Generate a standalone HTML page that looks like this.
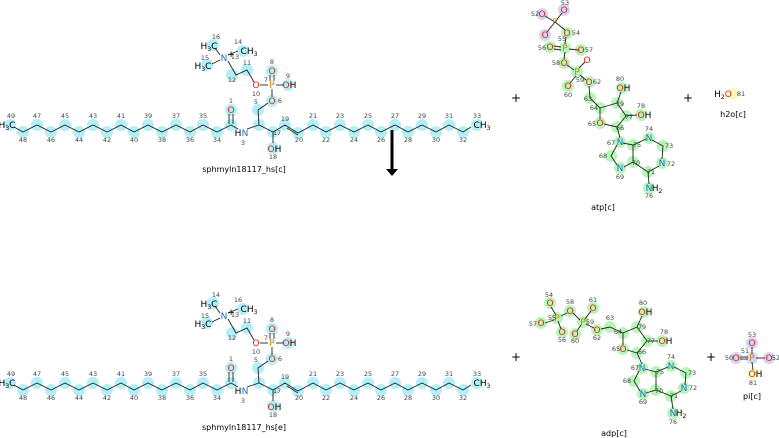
<!DOCTYPE html>
<html><head><meta charset="utf-8"><style>
html,body{margin:0;padding:0;background:#fff;width:779px;height:438px;overflow:hidden}
svg{display:block;font-family:"DejaVu Sans","Liberation Sans",sans-serif}
.n{font-size:6.5px;fill:#444;text-anchor:middle}
.a{font-size:9px;text-anchor:middle}
.O{fill:#e8200c}.N{fill:#1a6fd0}.P{fill:#d08000}.K{fill:#000}
.cy circle{fill:#b2eff6}
.gr circle{fill:#b8f5b8}
.bl{fill:#d4d4f8}.ye{fill:#fafac0}
.b{stroke:#222;stroke-width:0.9;fill:none}
.lab{font-size:8px;text-anchor:middle;fill:#000}
.plus{font-size:12px;text-anchor:middle;fill:#000}
</style></head><body>
<svg width="779" height="438" viewBox="0 0 779 438" xmlns="http://www.w3.org/2000/svg">

<!-- ===== TOP SPHINGOMYELIN ===== -->
<g>
<g class="cy">
<circle cx="10" cy="125" r="6"/><circle cx="23" cy="132" r="6"/><circle cx="37" cy="125" r="6"/><circle cx="51" cy="132" r="6"/><circle cx="65" cy="125" r="6"/><circle cx="79" cy="132" r="6"/><circle cx="93" cy="125" r="6"/><circle cx="107" cy="132" r="6"/><circle cx="121" cy="125" r="6"/><circle cx="134" cy="132" r="6"/><circle cx="148" cy="125" r="6"/><circle cx="162" cy="132" r="6"/><circle cx="176" cy="125" r="6"/><circle cx="190" cy="132" r="6"/><circle cx="203" cy="125" r="6"/><circle cx="217" cy="132" r="6"/><circle cx="231" cy="125" r="6"/><circle cx="231" cy="110" r="6"/><circle cx="259" cy="125" r="6"/><circle cx="258" cy="110" r="6"/><circle cx="272" cy="101" r="6"/><circle cx="272" cy="71" r="6"/><circle cx="288" cy="85" r="6"/><circle cx="247" cy="70" r="6"/><circle cx="232" cy="75" r="6"/><circle cx="213" cy="45" r="6"/><circle cx="243" cy="51" r="6"/><circle cx="207" cy="65" r="6"/><circle cx="273" cy="132" r="6"/><circle cx="273" cy="148" r="6"/><circle cx="285" cy="125" r="6"/><circle cx="298" cy="133" r="6"/><circle cx="313" cy="125" r="6"/><circle cx="326" cy="132" r="6"/><circle cx="340" cy="125" r="6"/><circle cx="354" cy="132" r="6"/><circle cx="368" cy="125" r="6"/><circle cx="381" cy="132" r="6"/><circle cx="395" cy="125" r="6"/><circle cx="408" cy="132" r="6"/><circle cx="422" cy="125" r="6"/><circle cx="436" cy="132" r="6"/><circle cx="449" cy="125" r="6"/><circle cx="463" cy="132" r="6"/><circle cx="477" cy="125" r="6"/>
</g>
<polyline class="b" points="14,127 23,132 37,125 51,132 65,125 79,132 93,125 107,132 121,125 134,132 148,125 162,132 176,125 190,132 203,125 217,132 231,125 238,129"/>
<polyline class="b" points="247,129 259,125 273,132 285,125 298,133 313,125 326,132 340,125 354,132 368,125 381,132 395,125 408,132 422,125 436,132 449,125 463,132 471,127"/>
<line class="b" x1="287" y1="128" x2="298" y2="135"/>
<line class="b" x1="229" y1="114" x2="229" y2="124"/><line class="b" x1="233" y1="114" x2="233" y2="124"/>
<polyline class="b" points="259,125 258,110 268,103"/>
<line class="b" x1="272" y1="97" x2="272" y2="89"/>
<line class="b" x1="270" y1="75" x2="270" y2="81"/><line class="b" x1="274" y1="75" x2="274" y2="81"/>
<line class="b" x1="276" y1="85" x2="284" y2="85"/><line class="b" x1="260" y1="85" x2="268" y2="85"/>
<polyline class="b" points="254,82 247,70 236,75 228,61"/>
<line class="b" x1="220" y1="55" x2="215" y2="48"/><line class="b" x1="228" y1="55" x2="238" y2="51"/><line class="b" x1="220" y1="60" x2="212" y2="64"/>
<line class="b" x1="273" y1="132" x2="273" y2="143"/>
<text class="a K" x="7" y="128">H<tspan font-size="6" dy="2">3</tspan><tspan dy="-2">C</tspan></text>
<text class="a O" x="231" y="113">O</text>
<text class="a K" x="238" y="136">H</text><text class="a N" x="245" y="136">N</text>
<text class="a O" x="272" y="104">O</text>
<text class="a P" x="272" y="88">P</text>
<text class="a O" x="272" y="74">O</text>
<text class="a O" x="286" y="88">O</text><text class="a K" x="293" y="88">H</text>
<text class="a O" x="256" y="88">O</text>
<text class="a N" x="224" y="61">N</text><text class="a K" x="231" y="57">+</text>
<text class="a K" x="209" y="49">H<tspan font-size="6" dy="2">3</tspan><tspan dy="-2">C</tspan></text>
<text class="a K" x="249" y="54">CH<tspan font-size="6" dy="2">3</tspan></text>
<text class="a K" x="203" y="69">H<tspan font-size="6" dy="2">3</tspan><tspan dy="-2">C</tspan></text>
<text class="a O" x="271" y="152">O</text><text class="a K" x="278" y="152">H</text>
<text class="a K" x="482" y="128">CH<tspan font-size="6" dy="2">3</tspan></text>
<text class="n" x="11" y="118">49</text><text class="n" x="23" y="142">48</text><text class="n" x="37" y="118">47</text><text class="n" x="51" y="142">46</text><text class="n" x="65" y="118">45</text><text class="n" x="79" y="142">44</text><text class="n" x="93" y="118">43</text><text class="n" x="107" y="142">42</text><text class="n" x="121" y="118">41</text><text class="n" x="134" y="142">40</text><text class="n" x="148" y="118">39</text><text class="n" x="162" y="142">38</text><text class="n" x="176" y="118">37</text><text class="n" x="190" y="142">36</text><text class="n" x="203" y="118">35</text><text class="n" x="217" y="142">34</text>
<text class="n" x="231" y="103">1</text><text class="n" x="243" y="145">3</text><text class="n" x="256" y="104">5</text><text class="n" x="280" y="103">6</text><text class="n" x="266" y="82">7</text><text class="n" x="272" y="64">8</text><text class="n" x="288" y="78">9</text><text class="n" x="256" y="96">10</text><text class="n" x="247" y="65">11</text><text class="n" x="232" y="82">12</text><text class="n" x="235" y="59">13</text><text class="n" x="238" y="44">14</text><text class="n" x="205" y="60">15</text><text class="n" x="216" y="39">16</text><text class="n" x="277" y="135">17</text><text class="n" x="273" y="159">18</text><text class="n" x="285" y="121">19</text><text class="n" x="299" y="142">20</text>
<text class="n" x="313" y="118">21</text><text class="n" x="326" y="142">22</text><text class="n" x="340" y="118">23</text><text class="n" x="354" y="142">24</text><text class="n" x="368" y="118">25</text><text class="n" x="381" y="142">26</text><text class="n" x="395" y="118">27</text><text class="n" x="408" y="142">28</text><text class="n" x="422" y="118">29</text><text class="n" x="436" y="142">30</text><text class="n" x="449" y="118">31</text><text class="n" x="463" y="142">32</text><text class="n" x="477" y="118">33</text>
<text class="lab" x="244" y="172">sphmyln18117_hs[c]</text>
</g>

<!-- arrow -->
<line x1="392" y1="130" x2="392" y2="170" stroke="#000" stroke-width="3"/>
<polygon points="386,169 398,169 392,176" fill="#000"/>

<!-- ===== BOTTOM SPHINGOMYELIN ===== -->
<g transform="translate(0,258)">
<g class="cy">
<circle cx="10" cy="125" r="6"/><circle cx="23" cy="132" r="6"/><circle cx="37" cy="125" r="6"/><circle cx="51" cy="132" r="6"/><circle cx="65" cy="125" r="6"/><circle cx="79" cy="132" r="6"/><circle cx="93" cy="125" r="6"/><circle cx="107" cy="132" r="6"/><circle cx="121" cy="125" r="6"/><circle cx="134" cy="132" r="6"/><circle cx="148" cy="125" r="6"/><circle cx="162" cy="132" r="6"/><circle cx="176" cy="125" r="6"/><circle cx="190" cy="132" r="6"/><circle cx="203" cy="125" r="6"/><circle cx="217" cy="132" r="6"/><circle cx="231" cy="125" r="6"/><circle cx="231" cy="110" r="6"/><circle cx="259" cy="125" r="6"/><circle cx="258" cy="110" r="6"/><circle cx="272" cy="101" r="6"/><circle cx="272" cy="71" r="6"/><circle cx="288" cy="85" r="6"/><circle cx="247" cy="70" r="6"/><circle cx="232" cy="75" r="6"/><circle cx="213" cy="45" r="6"/><circle cx="243" cy="51" r="6"/><circle cx="207" cy="65" r="6"/><circle cx="273" cy="132" r="6"/><circle cx="273" cy="148" r="6"/><circle cx="285" cy="125" r="6"/><circle cx="298" cy="133" r="6"/><circle cx="313" cy="125" r="6"/><circle cx="326" cy="132" r="6"/><circle cx="340" cy="125" r="6"/><circle cx="354" cy="132" r="6"/><circle cx="368" cy="125" r="6"/><circle cx="381" cy="132" r="6"/><circle cx="395" cy="125" r="6"/><circle cx="408" cy="132" r="6"/><circle cx="422" cy="125" r="6"/><circle cx="436" cy="132" r="6"/><circle cx="449" cy="125" r="6"/><circle cx="463" cy="132" r="6"/><circle cx="477" cy="125" r="6"/>
</g>
<polyline class="b" points="14,127 23,132 37,125 51,132 65,125 79,132 93,125 107,132 121,125 134,132 148,125 162,132 176,125 190,132 203,125 217,132 231,125 238,129"/>
<polyline class="b" points="247,129 259,125 273,132 285,125 298,133 313,125 326,132 340,125 354,132 368,125 381,132 395,125 408,132 422,125 436,132 449,125 463,132 471,127"/>
<line class="b" x1="287" y1="128" x2="298" y2="135"/>
<line class="b" x1="229" y1="114" x2="229" y2="124"/><line class="b" x1="233" y1="114" x2="233" y2="124"/>
<polyline class="b" points="259,125 258,110 268,103"/>
<line class="b" x1="272" y1="97" x2="272" y2="89"/>
<line class="b" x1="270" y1="75" x2="270" y2="81"/><line class="b" x1="274" y1="75" x2="274" y2="81"/>
<line class="b" x1="276" y1="85" x2="284" y2="85"/><line class="b" x1="260" y1="85" x2="268" y2="85"/>
<polyline class="b" points="254,82 247,70 236,75 228,61"/>
<line class="b" x1="220" y1="55" x2="215" y2="48"/><line class="b" x1="228" y1="55" x2="238" y2="51"/><line class="b" x1="220" y1="60" x2="212" y2="64"/>
<line class="b" x1="273" y1="132" x2="273" y2="143"/>
<text class="a K" x="7" y="128">H<tspan font-size="6" dy="2">3</tspan><tspan dy="-2">C</tspan></text>
<text class="a O" x="231" y="113">O</text>
<text class="a K" x="238" y="136">H</text><text class="a N" x="245" y="136">N</text>
<text class="a O" x="272" y="104">O</text>
<text class="a P" x="272" y="88">P</text>
<text class="a O" x="272" y="74">O</text>
<text class="a O" x="286" y="88">O</text><text class="a K" x="293" y="88">H</text>
<text class="a O" x="256" y="88">O</text>
<text class="a N" x="224" y="61">N</text><text class="a K" x="231" y="57">+</text>
<text class="a K" x="209" y="49">H<tspan font-size="6" dy="2">3</tspan><tspan dy="-2">C</tspan></text>
<text class="a K" x="249" y="54">CH<tspan font-size="6" dy="2">3</tspan></text>
<text class="a K" x="203" y="69">H<tspan font-size="6" dy="2">3</tspan><tspan dy="-2">C</tspan></text>
<text class="a O" x="271" y="152">O</text><text class="a K" x="278" y="152">H</text>
<text class="a K" x="482" y="128">CH<tspan font-size="6" dy="2">3</tspan></text>
<text class="n" x="11" y="118">49</text><text class="n" x="23" y="142">48</text><text class="n" x="37" y="118">47</text><text class="n" x="51" y="142">46</text><text class="n" x="65" y="118">45</text><text class="n" x="79" y="142">44</text><text class="n" x="93" y="118">43</text><text class="n" x="107" y="142">42</text><text class="n" x="121" y="118">41</text><text class="n" x="134" y="142">40</text><text class="n" x="148" y="118">39</text><text class="n" x="162" y="142">38</text><text class="n" x="176" y="118">37</text><text class="n" x="190" y="142">36</text><text class="n" x="203" y="118">35</text><text class="n" x="217" y="142">34</text>
<text class="n" x="231" y="103">1</text><text class="n" x="243" y="145">3</text><text class="n" x="256" y="104">5</text><text class="n" x="280" y="103">6</text><text class="n" x="266" y="82">7</text><text class="n" x="272" y="64">8</text><text class="n" x="288" y="78">9</text><text class="n" x="256" y="96">10</text><text class="n" x="247" y="65">11</text><text class="n" x="232" y="82">12</text><text class="n" x="235" y="59">13</text><text class="n" x="238" y="44">16</text><text class="n" x="205" y="60">15</text><text class="n" x="216" y="39">14</text><text class="n" x="277" y="135">17</text><text class="n" x="273" y="159">18</text><text class="n" x="285" y="121">19</text><text class="n" x="299" y="142">20</text>
<text class="n" x="313" y="118">21</text><text class="n" x="326" y="142">22</text><text class="n" x="340" y="118">23</text><text class="n" x="354" y="142">24</text><text class="n" x="368" y="118">25</text><text class="n" x="381" y="142">26</text><text class="n" x="395" y="118">27</text><text class="n" x="408" y="142">28</text><text class="n" x="422" y="118">29</text><text class="n" x="436" y="142">30</text><text class="n" x="449" y="118">31</text><text class="n" x="463" y="142">32</text><text class="n" x="477" y="118">33</text>
<text class="lab" x="244" y="172">sphmyln18117_hs[e]</text>
</g>

<!-- ===== ATP ===== -->
<text class="plus" x="516" y="102">+</text>
<circle class="bl" cx="542" cy="14" r="6"/><circle class="bl" cx="564" cy="10" r="6"/><circle class="bl" cx="545" cy="35" r="6"/>
<g class="gr">
<circle cx="567" cy="33" r="6"/><circle cx="565" cy="48" r="6"/><circle cx="550" cy="47" r="6"/><circle cx="581" cy="50" r="6"/><circle cx="564" cy="63" r="6"/><circle cx="577" cy="72" r="6"/><circle cx="568" cy="86" r="6"/><circle cx="589" cy="82" r="6"/><circle cx="590" cy="98" r="6"/><circle cx="600" cy="108" r="6"/><circle cx="600" cy="123" r="6"/><circle cx="617" cy="127" r="6"/><circle cx="617" cy="103" r="6"/><circle cx="626" cy="116" r="6"/><circle cx="622" cy="88" r="6"/><circle cx="641" cy="115" r="6"/><circle cx="620" cy="142" r="6"/><circle cx="611" cy="156" r="6"/><circle cx="620" cy="168" r="6"/><circle cx="633" cy="162" r="6"/><circle cx="633" cy="145" r="6"/><circle cx="649" cy="138" r="6"/><circle cx="663" cy="146" r="6"/><circle cx="662" cy="163" r="6"/><circle cx="648" cy="172" r="6"/><circle cx="649" cy="188" r="6"/>
</g>
<g class="b">
<line x1="555" y1="22" x2="545" y2="16"/><line x1="555" y1="22" x2="562" y2="13"/><line x1="555" y1="22" x2="547" y2="32"/><line x1="555" y1="22" x2="565" y2="30"/>
<line x1="566" y1="37" x2="565" y2="44"/><line x1="554" y1="46" x2="561" y2="47"/><line x1="554" y1="49" x2="561" y2="50"/><line x1="569" y1="49" x2="578" y2="50"/>
<line x1="565" y1="52" x2="564" y2="59"/><line x1="567" y1="65" x2="574" y2="70"/><line x1="579" y1="68" x2="585" y2="62"/><line x1="576" y1="76" x2="570" y2="83"/><line x1="580" y1="75" x2="586" y2="80"/>
<line x1="589" y1="86" x2="590" y2="98"/><line x1="590" y1="98" x2="600" y2="108"/>
<polyline points="600,108 600,119"/><polyline points="604,124 617,127 626,116 617,103 600,108"/>
<line x1="617" y1="103" x2="621" y2="92"/><line x1="626" y1="116" x2="637" y2="115"/>
<line x1="617" y1="127" x2="620" y2="138"/>
<polyline points="623,143 633,145 633,162 624,167"/><polyline points="617,145 611,156 617,165"/>
<polyline points="633,145 646,139"/><polyline points="652,140 663,146 662,159"/><polyline points="659,166 648,172 633,162"/>
<line x1="648" y1="172" x2="649" y2="184"/>
</g>
<text class="a O" x="542" y="17">O</text><text class="a O" x="564" y="13">O</text><text class="a O" x="545" y="38">O</text>
<text class="a P" x="555" y="25">P</text><text class="a O" x="567" y="36">O</text><text class="a P" x="565" y="51">P</text>
<text class="a O" x="550" y="50">O</text><text class="a O" x="581" y="53">O</text><text class="a O" x="587" y="63">O</text>
<text class="a O" x="564" y="66">O</text><text class="a P" x="577" y="75">P</text><text class="a O" x="568" y="89">O</text><text class="a O" x="589" y="85">O</text>
<text class="a O" x="600" y="126">O</text>
<text class="a O" x="620" y="91">O</text><text class="a K" x="627" y="91">H</text>
<text class="a O" x="641" y="118">O</text><text class="a K" x="648" y="118">H</text>
<text class="a N" x="620" y="145">N</text><text class="a N" x="620" y="171">N</text><text class="a N" x="649" y="141">N</text><text class="a N" x="662" y="166">N</text>
<text class="a N" x="649" y="191">N</text><text class="a K" x="657" y="191">H<tspan font-size="6" dy="2">2</tspan></text>
<text class="n" x="535" y="16">52</text><text class="n" x="565" y="5">53</text><text class="n" x="576" y="35">54</text><text class="n" x="562" y="41">55</text><text class="n" x="542" y="50">56</text><text class="n" x="589" y="52">57</text><text class="n" x="556" y="65">58</text><text class="n" x="580" y="82">59</text><text class="n" x="568" y="97">60</text><text class="n" x="597" y="84">62</text><text class="n" x="588" y="101">63</text><text class="n" x="594" y="110">64</text><text class="n" x="592" y="126">65</text><text class="n" x="620" y="130">66</text><text class="n" x="611" y="145">67</text><text class="n" x="603" y="158">68</text><text class="n" x="620" y="179">69</text><text class="n" x="636" y="165">70</text><text class="n" x="651" y="174">71</text><text class="n" x="671" y="166">72</text><text class="n" x="669" y="148">73</text><text class="n" x="649" y="131">74</text><text class="n" x="637" y="147">75</text><text class="n" x="649" y="198">76</text><text class="n" x="629" y="119">77</text><text class="n" x="641" y="108">78</text><text class="n" x="620" y="106">79</text><text class="n" x="620" y="81">80</text>
<text class="lab" x="603" y="210">atp[c]</text>

<text class="plus" x="688" y="102">+</text>
<circle class="ye" cx="733" cy="94" r="6"/>
<text class="a K" x="723" y="97">H<tspan font-size="6" dy="2">2</tspan><tspan class="O" dy="-2">O</tspan></text>
<text class="n" x="741" y="96">81</text>
<text class="lab" x="733" y="117">h2o[c]</text>

<!-- ===== ADP ===== -->
<text class="plus" x="516" y="361">+</text>
<g class="gr">
<circle cx="550" cy="303" r="6"/><circle cx="557" cy="318" r="6"/><circle cx="541" cy="323" r="6"/><circle cx="562" cy="332" r="6"/><circle cx="570" cy="311" r="6"/><circle cx="583" cy="322" r="6"/><circle cx="593" cy="308" r="6"/><circle cx="575" cy="334" r="6"/><circle cx="597" cy="330" r="6"/><circle cx="610" cy="327" r="6"/><circle cx="623" cy="333" r="6"/><circle cx="623" cy="349" r="6"/><circle cx="637" cy="353" r="6"/><circle cx="637" cy="327" r="6"/><circle cx="647" cy="341" r="6"/><circle cx="644" cy="312" r="6"/><circle cx="662" cy="341" r="6"/><circle cx="642" cy="368" r="6"/><circle cx="634" cy="381" r="6"/><circle cx="643" cy="394" r="6"/><circle cx="656" cy="390" r="6"/><circle cx="656" cy="372" r="6"/><circle cx="671" cy="366" r="6"/><circle cx="686" cy="373" r="6"/><circle cx="684" cy="388" r="6"/><circle cx="671" cy="396" r="6"/><circle cx="673" cy="413" r="6"/>
</g>
<g class="b">
<line x1="551" y1="307" x2="556" y2="315"/><line x1="554" y1="320" x2="545" y2="323"/><line x1="558" y1="321" x2="561" y2="329"/><line x1="561" y1="316" x2="567" y2="313"/>
<line x1="573" y1="313" x2="580" y2="320"/><line x1="585" y1="319" x2="591" y2="311"/><line x1="581" y1="325" x2="577" y2="331"/><line x1="586" y1="324" x2="594" y2="328"/>
<line x1="601" y1="329" x2="610" y2="327"/><line x1="610" y1="327" x2="623" y2="333"/>
<polyline points="623,333 623,345"/><polyline points="627,350 637,353 647,341 637,327 623,333"/>
<line x1="637" y1="327" x2="642" y2="316"/><line x1="647" y1="341" x2="658" y2="341"/>
<line x1="637" y1="353" x2="642" y2="364"/>
<polyline points="645,369 656,372 656,390 646,393"/><polyline points="639,371 634,381 640,391"/>
<polyline points="656,372 668,367"/><polyline points="674,367 686,373 685,385"/><polyline points="681,391 671,396 656,390"/>
<line x1="671" y1="396" x2="673" y2="409"/>
</g>
<text class="a O" x="550" y="306">O</text><text class="a P" x="557" y="321">P</text><text class="a O" x="541" y="326">O</text><text class="a O" x="562" y="335">O</text><text class="a O" x="570" y="314">O</text><text class="a P" x="583" y="325">P</text><text class="a O" x="593" y="311">O</text><text class="a O" x="575" y="337">O</text><text class="a O" x="597" y="333">O</text>
<text class="a O" x="623" y="352">O</text>
<text class="a O" x="642" y="315">O</text><text class="a K" x="649" y="315">H</text>
<text class="a O" x="662" y="344">O</text><text class="a K" x="669" y="344">H</text>
<text class="a N" x="642" y="371">N</text><text class="a N" x="643" y="397">N</text><text class="a N" x="671" y="369">N</text><text class="a N" x="684" y="391">N</text>
<text class="a N" x="673" y="416">N</text><text class="a K" x="681" y="416">H<tspan font-size="6" dy="2">2</tspan></text>
<text class="n" x="549" y="297">54</text><text class="n" x="552" y="320">55</text><text class="n" x="533" y="326">57</text><text class="n" x="562" y="342">56</text><text class="n" x="570" y="304">58</text><text class="n" x="590" y="324">59</text><text class="n" x="593" y="302">61</text><text class="n" x="575" y="343">60</text><text class="n" x="597" y="340">62</text><text class="n" x="610" y="320">63</text><text class="n" x="618" y="334">64</text><text class="n" x="616" y="351">65</text><text class="n" x="642" y="354">66</text><text class="n" x="635" y="370">67</text><text class="n" x="627" y="383">68</text><text class="n" x="643" y="404">69</text><text class="n" x="659" y="393">70</text><text class="n" x="674" y="398">71</text><text class="n" x="693" y="390">72</text><text class="n" x="692" y="375">73</text><text class="n" x="671" y="359">74</text><text class="n" x="660" y="374">75</text><text class="n" x="673" y="424">76</text><text class="n" x="651" y="343">77</text><text class="n" x="664" y="334">78</text><text class="n" x="642" y="329">79</text><text class="n" x="643" y="305">80</text>
<text class="lab" x="614" y="436">adp[c]</text>

<!-- ===== Pi ===== -->
<text class="plus" x="711" y="361">+</text>
<circle class="bl" cx="752" cy="343" r="6"/><circle class="bl" cx="752" cy="358" r="6"/><circle class="bl" cx="736" cy="358" r="6"/><circle class="bl" cx="769" cy="358" r="6"/>
<circle class="ye" cx="753" cy="374" r="6"/>
<g class="b"><line x1="752" y1="347" x2="752" y2="354"/><line x1="740" y1="357" x2="748" y2="357"/><line x1="740" y1="359" x2="748" y2="359"/><line x1="756" y1="358" x2="765" y2="358"/><line x1="752" y1="362" x2="753" y2="370"/></g>
<text class="a O" x="752" y="346">O</text><text class="a P" x="752" y="361">P</text><text class="a O" x="736" y="361">O</text><text class="a O" x="769" y="361">O</text>
<text class="a O" x="752" y="377">O</text><text class="a K" x="759" y="377">H</text>
<text class="n" x="752" y="337">53</text><text class="n" x="745" y="353">51</text><text class="n" x="729" y="360">50</text><text class="n" x="776" y="360">52</text><text class="n" x="753" y="385">81</text>
<text class="lab" x="752" y="399">pi[c]</text>
</svg>
</body></html>
